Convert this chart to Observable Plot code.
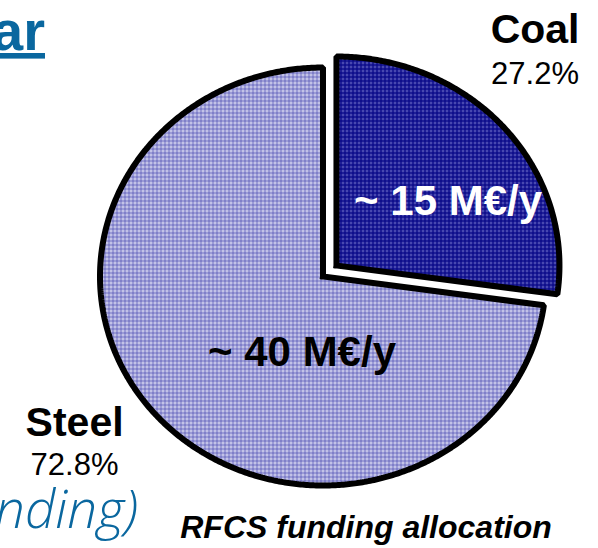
<!DOCTYPE html>
<html><head><meta charset="utf-8">
<script src="https://cdn.jsdelivr.net/npm/d3@7"></script>
<script src="https://cdn.jsdelivr.net/npm/@observablehq/plot@0.6"></script>
<style>
html,body{margin:0;padding:0;background:#fff;}
#chart{position:relative;width:598px;height:548px;overflow:hidden;}
</style>
</head><body><div id="chart"></div>
<script>
// ---- data ----
const categories = ["Coal", "Steel"];
const shares = [27.2, 72.8];          // % of RFCS funding
const funding = [15, 40];             // M€ per year
const fundingUnit = "M€/y";
const explodeSlice = "Coal";
const captionText = "RFCS funding allocation";
const titleFragment = "ar";
const subtitleFragment = "nding)";

// ---- layout (unit-circle coordinates of label baselines) ----
const labelLayout = {
  Coal:  {name: [0.951, 1.115],  pct: [0.951, 0.923],  amount: [0.561, 0.292]},
  Steel: {name: [-1.114, -0.761], pct: [-1.114, -0.952], amount: [-0.094, -0.426]}
};
const sliceStyle = {Coal: "url(#pat-Coal)", Steel: "url(#pat-Steel)"};
const FONT = "'Liberation Sans', Arial, Helvetica, sans-serif";

// ---- slice outlines from the shares ----
const total = d3.sum(shares);
let acc = 0;
const slicePts = [];
categories.forEach((c, i) => {
  const a0 = acc / total * 2 * Math.PI; acc += shares[i];
  const a1 = acc / total * 2 * Math.PI;
  const mid = (a0 + a1) / 2;
  const e = c === explodeSlice ? 0.08 : 0;
  const ox = e * Math.sin(mid), oy = e * Math.cos(mid);
  const n = Math.ceil((a1 - a0) / (Math.PI / 360));
  slicePts.push({c, x: ox, y: oy});
  for (let k = 0; k <= n; k++) {
    const a = a0 + (a1 - a0) * k / n;
    slicePts.push({c, x: ox + Math.sin(a), y: oy + Math.cos(a)});
  }
  slicePts.push({c, x: ox, y: oy});
});

const drawOrder = ["Steel", "Coal"];
const sliceMarks = drawOrder.map(c => Plot.line(slicePts.filter(d => d.c === c), {
  x: "x", y: "y", fill: sliceStyle[c], stroke: "black", strokeWidth: 6,
  strokeLinejoin: "miter", strokeLinecap: "square", curve: "linear"
}));

const svg = Plot.plot({
  width: 598, height: 548,
  marginTop: 0, marginRight: 0, marginBottom: 0, marginLeft: 0,
  x: {domain: [-1, 1], range: [99.5, 545.5], axis: null},
  y: {domain: [-1, 1], range: [485, 67], axis: null},
  color: {type: "identity"},
  style: {fontFamily: FONT, background: "white", overflow: "visible"},
  marks: [
    ...sliceMarks,
    Plot.text(categories, {
      x: c => labelLayout[c].name[0], y: c => labelLayout[c].name[1],
      text: c => c, fontSize: 41, fontWeight: "bold", fill: "black",
      textAnchor: "middle", lineAnchor: "bottom"
    }),
    Plot.text(categories, {
      x: c => labelLayout[c].pct[0], y: c => labelLayout[c].pct[1],
      text: (c, i) => shares[i].toFixed(1) + "%", fontSize: 31, fill: "black",
      textAnchor: "middle", lineAnchor: "bottom"
    }),
    Plot.text(categories, {
      x: c => labelLayout[c].amount[0], y: c => labelLayout[c].amount[1],
      text: (c, i) => `~ ${funding[i]} ${fundingUnit}`, fontSize: 42, fontWeight: "bold",
      fill: c => c === explodeSlice ? "white" : "black",
      textAnchor: "middle", lineAnchor: "bottom"
    })
  ]
});

// patterns
const defs = d3.select(svg).insert("defs", ":first-child");
function pattern(id, bg, line, dot) {
  const p = defs.append("pattern").attr("id", id).attr("patternUnits", "userSpaceOnUse")
    .attr("width", 4).attr("height", 4);
  p.append("rect").attr("width", 4).attr("height", 4).attr("fill", bg);
  p.append("rect").attr("width", 1).attr("height", 4).attr("fill", line);
  p.append("rect").attr("width", 4).attr("height", 1).attr("fill", line);
  p.append("rect").attr("x", 2).attr("y", 2).attr("width", 1).attr("height", 1).attr("fill", dot);
}
pattern("pat-Steel", "#d4d4f0", "#6262bc", "#8a8acc");
pattern("pat-Coal", "#3c3caa", "#000082", "#6a6ac0");

// slide fragments & caption
const s = d3.select(svg);
s.append("text").text(titleFragment)
  .attr("x", 45).attr("y", 50).attr("text-anchor", "end")
  .attr("font-family", FONT).attr("font-size", 56).attr("font-weight", "bold")
  .attr("fill", "#0a679f").style("text-decoration", "underline");
s.append("text").text(subtitleFragment)
  .attr("x", 138).attr("y", 528).attr("text-anchor", "end")
  .attr("font-family", "'Open Sans', 'Noto Sans', sans-serif").attr("font-size", 53)
  .attr("font-style", "italic").attr("font-weight", 300)
  .attr("fill", "#0a679f");
s.append("text").text(captionText)
  .attr("x", 366).attr("y", 538).attr("text-anchor", "middle")
  .attr("font-family", FONT).attr("font-size", 32).attr("font-weight", "bold")
  .attr("font-style", "italic").attr("fill", "black");

document.getElementById("chart").appendChild(svg);
</script>
</body></html>
